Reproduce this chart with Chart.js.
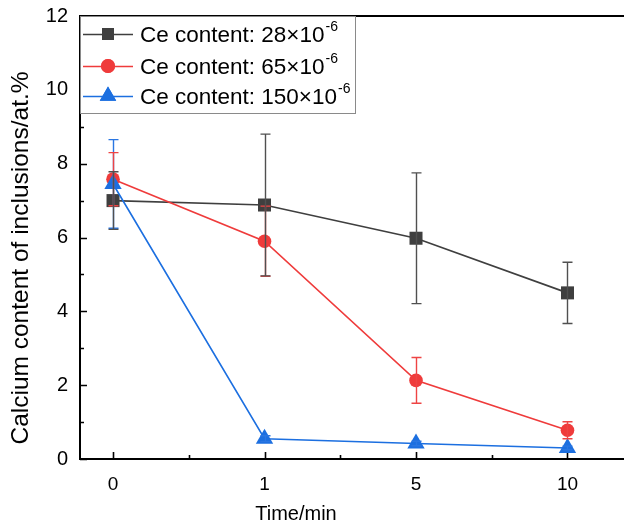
<!DOCTYPE html>
<html>
<head>
<meta charset="utf-8">
<script src="https://cdn.jsdelivr.net/npm/chart.js@4"></script>
<style>
  html, body { margin: 0; padding: 0; background: #fff; overflow: hidden; }
  #wrap { position: relative; width: 624px; height: 525px; }
</style>
</head>
<body>
<div id="wrap"><canvas id="chart" width="624" height="525"></canvas></div>
<script>
// sampling times (category positions on the x axis)
const times = ['0', '1', '5', '10'];

// Ca content in inclusions (at.%) and error bar half-widths
const ce28 = [7.0, 6.88, 5.98, 4.5];
const ce28Err = [0.78, 1.92, 1.77, 0.83];
const ce65 = [7.58, 5.9, 2.13, 0.78];
const ce65Err = [0.72, 0.95, 0.62, 0.23];
const ce150 = [7.45, 0.55, 0.42, 0.3];
const ce150Err = [1.2, 0.08, 0.06, 0.05];

const legendText = ['Ce content: 28\u00d710', 'Ce content: 65\u00d710', 'Ce content: 150\u00d710'];
const legendExp = '-6';

const yTicks = [0, 2, 4, 6, 8, 10, 12];

const FONT = "'Liberation Sans', Arial, sans-serif";
const C_BLACK = '#3f3f3f';
const C_RED = '#ef3b3b';
const C_BLUE = '#1c6fe0';

const pts = arr => arr.map((v, i) => ({x: i, y: v}));

function series(label, data, err, color, style, radius, order) {
  return {
    label, data: pts(data), err,
    borderColor: color, backgroundColor: color,
    borderWidth: 1.6, pointStyle: style, pointRadius: radius,
    pointBorderWidth: 0, pointHoverRadius: radius,
    pointBackgroundColor: color, order, tension: 0
  };
}

// inward tick marks, top frame line, error bars, titles and legend
const decorations = {
  id: 'decorations',
  beforeDatasetsDraw(chart) {
    const {ctx, chartArea: a, scales: {x, y}} = chart;
    ctx.save();
    ctx.strokeStyle = '#000';
    ctx.lineWidth = 1.6;
    ctx.beginPath();
    for (let v = 0; v <= 12; v++) {
      const py = Math.round(y.getPixelForValue(v)) + 0.5;
      const len = v % 2 === 0 ? 7 : 4;
      ctx.moveTo(a.left, py); ctx.lineTo(a.left + len, py);
    }
    for (let i = 0; i < times.length; i++) {
      const px = Math.round(x.getPixelForValue(i)) + 0.5;
      ctx.moveTo(px, a.bottom); ctx.lineTo(px, a.bottom - 7);
      if (i + 0.5 < x.max) {
        const mx = Math.round(x.getPixelForValue(i + 0.5)) + 0.5;
        ctx.moveTo(mx, a.bottom); ctx.lineTo(mx, a.bottom - 4);
      }
    }
    ctx.stroke();
    // top frame line
    ctx.lineWidth = 2;
    ctx.beginPath();
    ctx.moveTo(a.left - 1, a.top);
    ctx.lineTo(chart.width, a.top);
    ctx.stroke();
    ctx.restore();
  },
  afterDatasetsDraw(chart) {
    const {ctx, scales: {y}} = chart;
    ctx.save();
    ctx.lineWidth = 1.4;
    // draw black first so blue ends up on top
    [...chart.data.datasets].map((d, i) => i).reverse().forEach(i => {
      const ds = chart.data.datasets[i];
      const meta = chart.getDatasetMeta(i);
      ctx.strokeStyle = ds.errColor;
      meta.data.forEach((pt, j) => {
        const v = ds.data[j].y, e = ds.err[j];
        const px = Math.round(pt.x) + 0.5;
        const top = y.getPixelForValue(v + e), bot = y.getPixelForValue(v - e);
        ctx.beginPath();
        ctx.moveTo(px, top); ctx.lineTo(px, bot);
        ctx.moveTo(px - 5, top); ctx.lineTo(px + 5, top);
        ctx.moveTo(px - 5, bot); ctx.lineTo(px + 5, bot);
        ctx.stroke();
      });
    });
    ctx.restore();
  },
  afterDraw(chart) {
    const {ctx, chartArea: a} = chart;
    ctx.save();
    ctx.fillStyle = '#000';
    // axis titles
    ctx.font = '20px ' + FONT;
    ctx.textAlign = 'center';
    ctx.textBaseline = 'middle';
    ctx.fillText('Time/min', 296, 514);
    ctx.translate(21, 258);
    ctx.rotate(-Math.PI / 2);
    ctx.font = '24.5px ' + FONT;
    ctx.fillText('Calcium content of inclusions/at.%', 0, 0);
    ctx.restore();

    // legend box
    ctx.save();
    const bx = a.left, by = a.top, bw = 275, bh = 97;
    ctx.fillStyle = '#fff';
    ctx.fillRect(bx, by, bw, bh);
    ctx.strokeStyle = '#8a8a8a';
    ctx.lineWidth = 1;
    ctx.strokeRect(bx + 0.5, by + 0.5, bw, bh);
    const rows = [34, 66, 96];
    const sets = chart.data.datasets;
    sets.forEach((ds, i) => {
      const cy = rows[i];
      ctx.strokeStyle = ds.borderColor;
      ctx.lineWidth = 1.6;
      ctx.beginPath();
      ctx.moveTo(83, cy + 0.5); ctx.lineTo(133, cy + 0.5);
      ctx.stroke();
      ctx.fillStyle = ds.borderColor;
      Chart.helpers.drawPoint(ctx, {pointStyle: ds.pointStyle, radius: ds.legendRadius, borderWidth: 0}, 108, cy);
      ctx.fill();
      ctx.fillStyle = '#000';
      ctx.textAlign = 'left';
      ctx.textBaseline = 'middle';
      ctx.font = '22.5px ' + FONT;
      ctx.fillText(legendText[i], 140, cy + 2);
      const w = ctx.measureText(legendText[i]).width;
      ctx.font = '14px ' + FONT;
      ctx.fillText(legendExp, 140 + w + 1, cy - 7);
    });
    ctx.restore();
  }
};

const ds28 = series('28', ce28, ce28Err, C_BLACK, 'rect', 9.2, 2);
ds28.errColor = '#505050'; ds28.legendRadius = 8.5;
const ds65 = series('65', ce65, ce65Err, C_RED, 'circle', 6.8, 1);
ds65.errColor = '#ee4444'; ds65.legendRadius = 7;
const ds150 = series('150', ce150, ce150Err, C_BLUE, 'triangle', 10, 0);
ds150.errColor = '#2a76e2'; ds150.legendRadius = 9.5;

new Chart(document.getElementById('chart'), {
  type: 'line',
  data: { datasets: [ds28, ds65, ds150] },
  options: {
    responsive: false,
    animation: false,
    layout: { autoPadding: false, padding: { top: 16, right: 0, left: 0, bottom: 0 } },
    plugins: { legend: { display: false }, tooltip: { enabled: false } },
    scales: {
      x: {
        type: 'linear',
        min: -0.218, max: 3.373,
        grid: { display: false },
        border: { display: true, color: '#000', width: 2 },
        afterBuildTicks: s => { s.ticks = times.map((_, i) => ({value: i})); },
        afterFit: s => { s.height = 66; s.paddingRight = 0; s.paddingLeft = 0; },
        ticks: {
          callback: v => times[v],
          color: '#000', padding: 6,
          font: { family: FONT, size: 19 },
          maxRotation: 0
        }
      },
      y: {
        min: 0, max: 12,
        grid: { display: false },
        border: { display: true, color: '#000', width: 2 },
        afterBuildTicks: s => { s.ticks = yTicks.map(v => ({value: v})); },
        afterFit: s => { s.width = 80; },
        ticks: {
          color: '#000', padding: 4,
          font: { family: FONT, size: 20 }
        }
      }
    }
  },
  plugins: [decorations]
});
</script>
</body>
</html>
